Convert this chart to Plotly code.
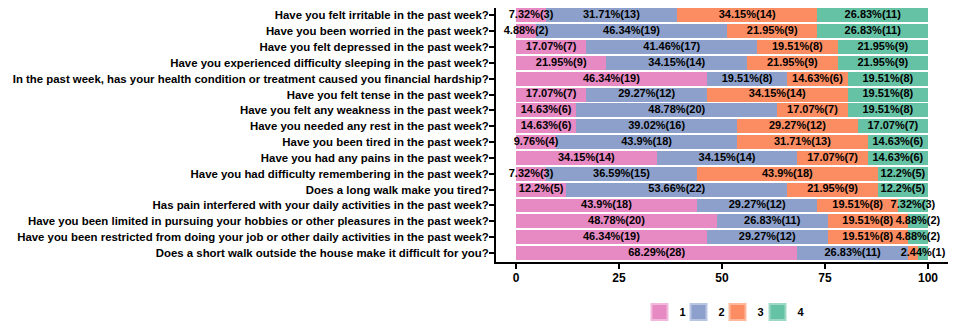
import plotly.graph_objects as go

questions = [
    "Have you felt irritable in the past week?",
    "Have you been worried in the past week?",
    "Have you felt depressed in the past week?",
    "Have you experienced difficulty sleeping in the past week?",
    "In the past week, has your health condition or treatment caused you financial hardship?",
    "Have you felt tense in the past week?",
    "Have you felt any weakness in the past week?",
    "Have you needed any rest in the past week?",
    "Have you been tired in the past week?",
    "Have you had any pains in the past week?",
    "Have you had difficulty remembering in the past week?",
    "Does a long walk make you tired?",
    "Has pain interfered with your daily activities in the past week?",
    "Have you been limited in pursuing your hobbies or other pleasures in the past week?",
    "Have you been restricted from doing your job or other daily activities in the past week?",
    "Does a short walk outside the house make it difficult for you?",
]

counts_1 = [3, 2, 7, 9, 19, 7, 6, 6, 4, 14, 3, 5, 18, 20, 19, 28]
counts_2 = [13, 19, 17, 14, 8, 12, 20, 16, 18, 14, 15, 22, 12, 11, 12, 11]
counts_3 = [14, 9, 8, 9, 6, 14, 7, 12, 13, 7, 18, 9, 8, 8, 8, 1]
counts_4 = [11, 11, 9, 9, 8, 8, 8, 7, 6, 6, 5, 5, 3, 2, 2, 1]

total_n = 41
series_names = ["1", "2", "3", "4"]
series_counts = [counts_1, counts_2, counts_3, counts_4]
colors = ["#E78AC3", "#8DA0CB", "#FC8D62", "#66C2A5"]
legend_edges = ["#F2B8DB", "#B8C5E3", "#FDB89E", "#9DD9C5"]
x_ticks = [0, 25, 50, 75, 100]

# label of the tiny orange segment in the last row is hidden in the original
hidden_labels = {(2, 15)}

FONT = "Liberation Sans, Arial, sans-serif"
PAGE_OFFSET = 8          # default body margin of the html page
FIG_W, FIG_H = 956 - PAGE_OFFSET, 329 - PAGE_OFFSET
ML, MR, MT, MB = 496 - PAGE_OFFSET, 8, 0, 67
PLOT_W = FIG_W - ML - MR
PLOT_H = FIG_H - MT - MB
legend_symbol_px = [660, 699, 738, 778]
legend_center_py = 312

fig = go.Figure()
starts = [0.0] * len(questions)
text_x, text_y, text_s = [], [], []
for si, (name, cnts) in enumerate(zip(series_names, series_counts)):
    pct = [c / total_n * 100 for c in cnts]
    fig.add_trace(go.Bar(
        y=questions, x=pct, orientation="h", name=name,
        marker=dict(color=colors[si], line=dict(width=0)),
        showlegend=False, hoverinfo="skip",
    ))
    for qi, (p, c) in enumerate(zip(pct, cnts)):
        if (si, qi) not in hidden_labels:
            text_x.append(starts[qi] + p / 2)
            text_y.append(questions[qi])
            text_s.append(f"{round(p, 2):g}%({c})")
        starts[qi] += p
    lg = "legend" if si == 0 else f"legend{si + 1}"
    fig.add_trace(go.Scatter(
        x=[None], y=[None], mode="markers", name=name, legend=lg,
        marker=dict(symbol="square", size=16, color=colors[si],
                    line=dict(color=legend_edges[si], width=2)),
        showlegend=True,
    ))

fig.add_trace(go.Scatter(
    x=text_x, y=text_y, text=text_s, mode="text", textposition="middle center",
    textfont=dict(family=FONT, size=11, color="black", weight="bold"),
    showlegend=False, cliponaxis=False, hoverinfo="skip",
))

legend_common = dict(orientation="h", xanchor="center",
                     y=-(legend_center_py - 262) / PLOT_H, yanchor="middle",
                     font=dict(family=FONT, size=11, color="black", weight="bold"),
                     bgcolor="rgba(0,0,0,0)", borderwidth=0)
layout_legends = {}
for i, px in enumerate(legend_symbol_px):
    key = "legend" if i == 0 else f"legend{i + 1}"
    layout_legends[key] = dict(legend_common, x=(px + 5.5 - 496) / PLOT_W)

fig.update_layout(
    template="none",
    width=FIG_W, height=FIG_H,
    barmode="stack", bargap=0.12,
    plot_bgcolor="white", paper_bgcolor="white",
    margin=dict(l=ML, r=MR, t=MT, b=MB),
    font=dict(family=FONT, size=10, color="black", weight="bold"),
    **layout_legends,
)
fig.update_xaxes(
    range=[-4.85, 104.85], tickvals=x_ticks, ticks="outside", ticklen=5, tickwidth=2,
    tickcolor="black", showline=True, linecolor="black", linewidth=2,
    showgrid=False, zeroline=False, automargin=False, ticklabelstandoff=-1,
    tickfont=dict(family=FONT, size=12, weight="bold", color="black"),
)
fig.update_yaxes(
    autorange=False, range=[15.57, -0.47], categoryorder="array", categoryarray=questions,
    ticks="outside", ticklen=5, tickwidth=2, tickcolor="black",
    showline=True, linecolor="black", linewidth=2, showgrid=False, zeroline=False,
    automargin=False, ticklabelstandoff=-2,
    tickfont=dict(family=FONT, size=11.4, weight="bold", color="black"),
)

fig.write_html("out.html")
